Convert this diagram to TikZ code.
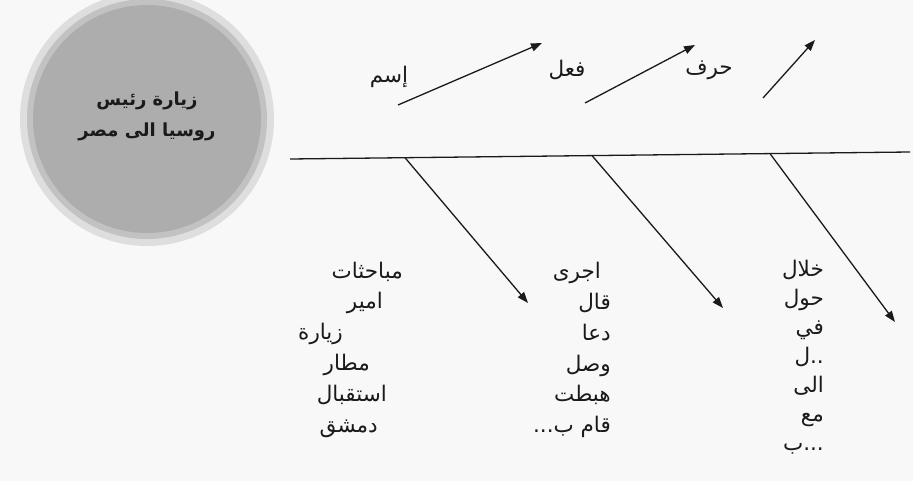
\documentclass[tikz,border=0pt]{standalone}
\usepackage{fontspec}
\usetikzlibrary{arrows.meta}
\newfontfamily\arabicfont[Script=Arabic]{DejaVu Sans}
\TeXXeTstate=1
\definecolor{ink}{HTML}{1A1A1A}
\definecolor{paper}{HTML}{F8F8F8}
\tikzset{
  ar/.style={font=\arabicfont\fontsize{21.5}{24}\selectfont, text=ink, inner sep=0pt, text height=15pt, text depth=6pt},
  colw/.style={ar, anchor=east},
  lineink/.style={draw=ink, line width=1.3pt},
  arr/.style={lineink, -{Triangle[length=11pt,width=8pt]}},
}
\begin{document}
\begin{tikzpicture}[x=1pt,y=-1pt]
\fill[paper] (0,0) rectangle (913,481);
\useasboundingbox (0,0) rectangle (913,481);
% circle
\fill[gray!26] (147,119) circle (127);
\fill[gray!48] (147,119) circle (120);
\fill[gray!64] (147,119) circle (114);
\node[font=\arabicfont\bfseries\fontsize{18}{31}\selectfont, text=ink, align=center] (title) at (147,116)
  {\beginR زيارة رئيس\endR\\\beginR روسيا الى مصر\endR};
% spine
\coordinate (s0) at (290,159);
\coordinate (s1) at (910,152);
\draw[lineink] (s0) -- (s1);
% lower branches
\coordinate (b1) at (405,157.7);
\coordinate (b2) at (592,155.6);
\coordinate (b3) at (770,153.6);
\coordinate (t1) at (528,303);
\coordinate (t2) at (723,308);
\coordinate (t3) at (895,322);
\draw[arr] (b1) -- (t1);
\draw[arr] (b2) -- (t2);
\draw[arr] (b3) -- (t3);
% upper arrows
\coordinate (u1s) at (398,105); \coordinate (u1e) at (542,43);
\coordinate (u2s) at (585,103); \coordinate (u2e) at (695,45);
\coordinate (u3s) at (763,98);  \coordinate (u3e) at (815,40);
\draw[arr] (u1s) -- (u1e);
\draw[arr] (u2s) -- (u2e);
\draw[arr] (u3s) -- (u3e);
\node[ar] (lism) at (389,78) {\beginR إسم\endR};
\node[ar] (lfil) at (567,72) {\beginR فعل\endR};
\node[ar] (lharf) at (709,70) {\beginR حرف\endR};
% column 1
\node[colw] (c1a) at (403,274) {\beginR مباحثات\endR};
\node[colw] (c1b) at (383,304) {\beginR امير\endR};
\node[colw] (c1c) at (343,335) {\beginR زيارة\endR};
\node[colw] (c1d) at (370,366) {\beginR مطار\endR};
\node[colw] (c1e) at (387,397) {\beginR استقبال\endR};
\node[colw] (c1f) at (378,428) {\beginR دمشق\endR};
% column 2
\node[colw] (c2a) at (601,274) {\beginR اجرى\endR};
\node[colw] (c2b) at (611,305) {\beginR قال\endR};
\node[colw] (c2c) at (611,336) {\beginR دعا\endR};
\node[colw] (c2d) at (611,367) {\beginR وصل\endR};
\node[colw] (c2e) at (611,397) {\beginR هبطت\endR};
\node[colw] (c2f) at (611,428) {\beginR قام ب...\endR};
% column 3
\node[colw] (c3a) at (824,272) {\beginR خلال\endR};
\node[colw] (c3b) at (824,301) {\beginR حول\endR};
\node[colw] (c3c) at (824,330) {\beginR في\endR};
\node[colw] (c3d) at (824,359) {\hbox{\beginR ل\endR}\hbox{..}};
\node[colw] (c3e) at (824,388) {\beginR الى\endR};
\node[colw] (c3f) at (824,417) {\beginR مع\endR};
\node[colw] (c3g) at (824,446) {\hbox{\beginR ب\endR}\hbox{...}};
\end{tikzpicture}
\end{document}
